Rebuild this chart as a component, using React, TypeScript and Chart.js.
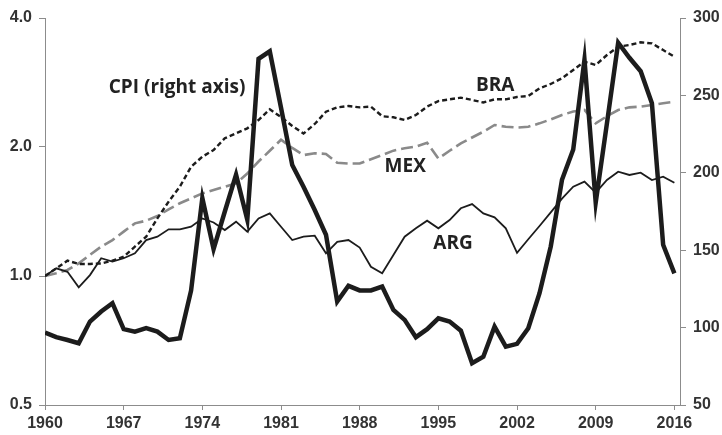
import React, { useEffect, useRef } from 'react';
import { Chart, registerables } from 'chart.js';

Chart.register(...registerables);

const years = [
  1960, 1961, 1962, 1963, 1964, 1965, 1966, 1967, 1968, 1969,
  1970, 1971, 1972, 1973, 1974, 1975, 1976, 1977, 1978, 1979,
  1980, 1981, 1982, 1983, 1984, 1985, 1986, 1987, 1988, 1989,
  1990, 1991, 1992, 1993, 1994, 1995, 1996, 1997, 1998, 1999,
  2000, 2001, 2002, 2003, 2004, 2005, 2006, 2007, 2008, 2009,
  2010, 2011, 2012, 2013, 2014, 2015, 2016,
];

// CPI (right axis)
const cpi = [
  96.8, 93.8, 92, 89.9, 103.9, 110.4, 115.8, 99, 97.4, 99.6,
  97.4, 92, 93.1, 124, 183.7, 150.7, 175, 198.8, 169.7, 273.6,
  278.5, 242, 205, 191, 176, 160, 116.8, 127, 124, 124,
  126.5, 111.4, 105, 93.8, 99, 106, 103.9, 98, 77, 81.2,
  100.6, 87.7, 89.5, 99.6, 122.2, 152.4, 195.5, 215, 273, 180.8,
  232, 284, 274.3, 265.6, 245, 153.5, 135,
];

// Left (log) axis series
const arg = [
  1.0, 1.042, 1.023, 0.941, 1.005, 1.1, 1.08, 1.1, 1.13, 1.213,
  1.235, 1.285, 1.285, 1.303, 1.362, 1.333, 1.28, 1.339, 1.269, 1.363,
  1.4, 1.303, 1.213, 1.235, 1.242, 1.13, 1.202, 1.213, 1.165, 1.051,
  1.015, 1.12, 1.235, 1.292, 1.346, 1.292, 1.351, 1.439, 1.472, 1.4,
  1.371, 1.292, 1.133, 1.218, 1.308, 1.408, 1.515, 1.616, 1.66, 1.565,
  1.675, 1.751, 1.721, 1.742, 1.675, 1.705, 1.651,
];

const bra = [
  1.0, 1.042, 1.086, 1.067, 1.067, 1.07, 1.086, 1.109, 1.171, 1.235,
  1.363, 1.491, 1.616, 1.799, 1.898, 1.968, 2.096, 2.153, 2.211, 2.312,
  2.449, 2.35, 2.24, 2.15, 2.263, 2.418, 2.475, 2.493, 2.475, 2.485,
  2.36, 2.346, 2.312, 2.375, 2.485, 2.56, 2.584, 2.607, 2.575, 2.54,
  2.584, 2.584, 2.617, 2.631, 2.742, 2.806, 2.893, 3.025, 3.163, 3.108,
  3.279, 3.429, 3.46, 3.51, 3.49, 3.368, 3.249,
];

const mex = [
  1.0, 1.015, 1.033, 1.07, 1.12, 1.171, 1.213, 1.269, 1.327, 1.346,
  1.38, 1.431, 1.478, 1.518, 1.559, 1.587, 1.616, 1.645, 1.735, 1.85,
  1.96, 2.08, 1.99, 1.915, 1.934, 1.927, 1.838, 1.83, 1.83, 1.872,
  1.915, 1.961, 1.986, 2.004, 2.047, 1.88, 1.96, 2.04, 2.105, 2.171,
  2.251, 2.23, 2.22, 2.23, 2.271, 2.32, 2.375, 2.42, 2.44, 2.271,
  2.36, 2.44, 2.475, 2.485, 2.506, 2.53, 2.55,
];

const xTicks = [1960, 1967, 1974, 1981, 1988, 1995, 2002, 2009, 2016];
const leftTicks = [0.5, 1.0, 2.0, 4.0];
const rightTicks = [50, 100, 150, 200, 250, 300];

// Series labels, placed in data units (year, right-axis level)
const labelTexts = ['CPI (right axis)', 'BRA', 'MEX', 'ARG'];
const labelYears = [1971.75, 2000.05, 1992.05, 1996.3];
const labelLevels = [255, 256.3, 204, 154];

const INK = '#1c1c1c';
const GREY = '#8a8a8a';
const AXIS = '#8c8c8c';
const TICKFONT = { family: '"Liberation Sans", Arial, sans-serif', size: 16, weight: 'bold' as const };

const labelPlugin = {
  id: 'seriesLabels',
  afterDatasetsDraw(chart: any) {
    const ctx = chart.ctx;
    const xs = chart.scales.x;
    const ys = chart.scales.y2;
    ctx.save();
    ctx.font = 'bold 19px "Open Sans"';
    ctx.fillStyle = '#222';
    ctx.textAlign = 'center';
    ctx.textBaseline = 'middle';
    labelTexts.forEach((t, i) => {
      ctx.fillText(t, xs.getPixelForValue(labelYears[i]), ys.getPixelForValue(labelLevels[i]));
    });
    ctx.restore();
  },
};

function pts(vals: number[]) {
  return years.map((y, i) => ({ x: y, y: vals[i] }));
}

export default function App() {
  const ref = useRef<HTMLCanvasElement | null>(null);

  useEffect(() => {
    document.body.style.margin = '0';
    const canvas = ref.current!;
    const chart = new Chart(canvas, {
      type: 'line',
      data: {
        datasets: [
          {
            label: 'CPI',
            data: pts(cpi),
            yAxisID: 'y2',
            borderColor: INK,
            borderWidth: 4.5,
            pointRadius: 0,
            tension: 0,
            borderJoinStyle: 'miter',
          },
          {
            label: 'ARG',
            data: pts(arg),
            yAxisID: 'y',
            borderColor: INK,
            borderWidth: 1.8,
            pointRadius: 0,
            tension: 0,
          },
          {
            label: 'BRA',
            data: pts(bra),
            yAxisID: 'y',
            borderColor: INK,
            borderWidth: 2.4,
            borderDash: [5, 3],
            pointRadius: 0,
            tension: 0,
          },
          {
            label: 'MEX',
            data: pts(mex),
            yAxisID: 'y',
            borderColor: GREY,
            borderWidth: 2.6,
            borderDash: [12, 5],
            pointRadius: 0,
            tension: 0,
          },
        ],
      },
      options: {
        animation: false,
        responsive: false,
        maintainAspectRatio: false,
        layout: { padding: { top: 18, left: 0, right: 0, bottom: 0 } },
        plugins: { legend: { display: false }, tooltip: { enabled: false } },
        scales: {
          x: {
            type: 'linear',
            min: 1960,
            max: 2016.5,
            afterBuildTicks: (s: any) => { s.ticks = xTicks.map((v) => ({ value: v })); },
            afterFit: (s: any) => { s.height = 30; },
            ticks: {
              color: '#333',
              font: TICKFONT,
              padding: 4,
              maxRotation: 0,
              autoSkip: false,
              callback: (v: any) => String(v),
            },
            grid: { display: true, drawOnChartArea: false, drawTicks: true, tickLength: 5, color: AXIS },
            border: { display: true, color: AXIS, width: 1 },
          },
          y: {
            type: 'logarithmic',
            position: 'left',
            min: 0.5,
            max: 4,
            afterBuildTicks: (s: any) => { s.ticks = leftTicks.map((v) => ({ value: v })); },
            afterFit: (s: any) => { s.width = 45; },
            ticks: {
              color: '#333',
              font: TICKFONT,
              padding: 7,
              autoSkip: false,
              callback: (v: any) => Number(v).toFixed(1),
            },
            grid: { display: true, drawOnChartArea: false, drawTicks: true, tickLength: 6, color: AXIS },
            border: { display: true, color: AXIS, width: 1 },
          },
          y2: {
            type: 'linear',
            position: 'right',
            min: 50,
            max: 300,
            afterBuildTicks: (s: any) => { s.ticks = rightTicks.map((v) => ({ value: v })); },
            afterFit: (s: any) => { s.width = 42; },
            ticks: {
              color: '#333',
              font: TICKFONT,
              padding: 7,
              autoSkip: false,
              callback: (v: any) => String(v),
            },
            grid: { display: true, drawOnChartArea: false, drawTicks: true, tickLength: 6, color: AXIS },
            border: { display: true, color: AXIS, width: 1 },
          },
        },
      },
      plugins: [labelPlugin],
    } as any);
    return () => chart.destroy();
  }, []);

  return (
    <div style={{ position: 'absolute', left: 0, top: 0, width: 722, height: 435, background: '#fff' }}>
      <canvas ref={ref} width={722} height={435} style={{ width: 722, height: 435, display: 'block' }} />
    </div>
  );
}
